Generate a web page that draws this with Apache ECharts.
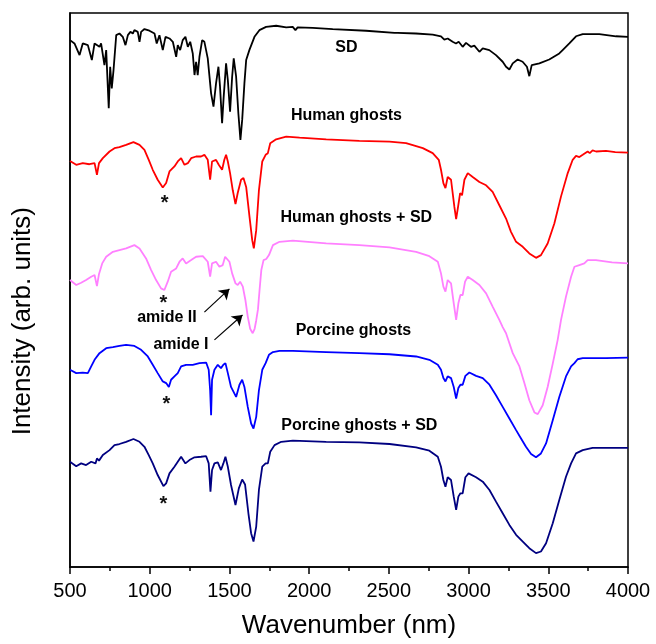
<!DOCTYPE html>
<html>
<head>
<meta charset="utf-8">
<script src="https://cdn.jsdelivr.net/npm/echarts@6/dist/echarts.min.js"></script>
<style>
html,body{margin:0;padding:0;background:#fff;}
#chart{width:656px;height:644px;}
</style>
</head>
<body>
<div id="chart"></div>
<script>
// x tick values (wavenumber)
var xTicks = [500, 1000, 1500, 2000, 2500, 3000, 3500, 4000];

// Spectra: [wavenumber, intensity (arb. units, offset stacked)]
var sdData = [[500,95.1],[528,94.5],[560,92.4],[580,94.5],[612,94.2],[637,91.5],[654,94.5],[685,93.9],[695,94.5],[716,90.6],[727,93.3],[743,82.8],[752,90.3],[762,86.4],[773,89.7],[790,96.0],[810,96.3],[831,95.7],[848,94.2],[863,96.0],[879,96.6],[894,96.3],[904,96.9],[925,96.6],[936,94.8],[946,96.6],[967,97.1],[998,96.8],[1030,96.3],[1044,94.5],[1061,96.0],[1082,93.3],[1099,95.7],[1124,95.4],[1145,94.8],[1166,92.1],[1176,94.2],[1191,93.3],[1207,95.1],[1224,95.7],[1239,93.9],[1254,94.8],[1270,92.7],[1281,88.8],[1291,91.2],[1301,88.8],[1312,92.1],[1329,95.1],[1343,94.8],[1364,91.8],[1385,85.5],[1400,83.1],[1416,87.3],[1431,90.3],[1441,86.7],[1454,80.1],[1464,84.9],[1479,90.9],[1490,87.9],[1504,82.2],[1517,88.5],[1527,91.8],[1542,88.5],[1556,81.9],[1569,77.1],[1580,80.7],[1594,87.3],[1605,91.5],[1625,93.3],[1657,95.7],[1688,96.9],[1730,97.5],[1793,97.7],[1856,97.4],[1897,97.5],[1914,96.9],[1928,97.4],[2022,97.3],[2148,97.1],[2357,96.8],[2535,96.4],[2545,96.1],[2555,96.4],[2670,96.3],[2775,96.1],[2827,95.8],[2848,95.2],[2869,95.4],[2900,94.8],[2921,94.5],[2938,94.8],[2963,93.9],[2984,94.6],[3015,93.9],[3036,94.1],[3068,93.0],[3089,93.6],[3130,93.3],[3172,92.4],[3214,91.2],[3235,90.3],[3256,89.8],[3277,90.9],[3308,91.6],[3339,91.2],[3366,90.3],[3381,88.6],[3396,90.6],[3444,90.9],[3506,91.6],[3569,92.7],[3590,93.3],[3632,94.5],[3674,95.8],[3716,96.2],[3820,96.2],[3925,95.8],[4000,95.7]];

var humanData = [[500,73.3],[539,72.6],[580,72.9],[622,72.7],[654,72.9],[669,70.8],[682,72.9],[706,73.8],[748,75.0],[779,75.6],[810,75.8],[852,76.2],[898,76.7],[936,76.2],[967,75.3],[994,73.5],[1019,71.7],[1050,69.9],[1082,68.5],[1103,69.3],[1124,71.4],[1155,72.3],[1176,73.2],[1197,73.8],[1218,72.6],[1239,72.9],[1260,73.8],[1291,74.1],[1322,74.1],[1343,74.4],[1364,73.5],[1379,69.9],[1391,73.2],[1416,73.5],[1433,72.6],[1454,71.7],[1468,73.5],[1479,74.4],[1490,73.2],[1504,71.1],[1521,68.0],[1538,65.5],[1552,67.5],[1573,69.9],[1588,70.2],[1605,68.6],[1626,63.2],[1643,59.0],[1653,57.5],[1668,60.8],[1685,68.0],[1706,73.2],[1727,74.4],[1741,74.7],[1756,76.5],[1793,77.2],[1856,77.7],[1940,77.5],[2107,77.2],[2315,76.9],[2504,76.8],[2608,76.5],[2713,75.6],[2775,74.7],[2813,73.5],[2827,71.7],[2842,69.3],[2855,68.4],[2869,70.4],[2890,69.9],[2911,65.0],[2922,62.8],[2934,65.0],[2947,67.5],[2959,67.1],[2974,69.9],[2995,71.1],[3026,70.4],[3068,69.5],[3110,68.9],[3151,67.7],[3193,65.3],[3235,62.9],[3266,60.5],[3298,58.7],[3340,57.8],[3381,56.6],[3423,55.8],[3454,56.3],[3496,58.4],[3538,62.0],[3580,66.9],[3622,71.1],[3653,73.5],[3674,74.2],[3695,74.0],[3716,74.4],[3747,75.0],[3760,74.7],[3778,75.2],[3800,75.0],[3862,75.1],[3920,74.9],[4000,74.8]];

var humanSdData = [[500,51.8],[539,50.9],[570,51.3],[601,51.8],[633,52.4],[654,52.7],[669,50.7],[682,52.9],[702,54.8],[727,56.0],[769,56.9],[810,57.2],[852,57.5],[904,58.1],[936,57.5],[977,55.7],[1009,53.6],[1040,51.8],[1071,50.3],[1092,50.0],[1113,51.5],[1134,53.3],[1166,53.9],[1187,55.1],[1207,55.7],[1228,54.8],[1260,55.4],[1291,56.0],[1333,56.1],[1364,55.1],[1379,52.4],[1391,54.8],[1416,55.1],[1437,54.2],[1458,54.5],[1473,56.0],[1485,56.3],[1500,55.1],[1517,53.0],[1538,51.2],[1552,50.9],[1567,51.5],[1584,50.6],[1600,48.2],[1615,45.2],[1630,43.0],[1646,42.2],[1658,43.0],[1668,44.5],[1679,46.5],[1689,50.0],[1700,53.6],[1714,55.4],[1731,55.6],[1748,56.3],[1773,58.1],[1814,58.7],[1898,58.9],[2107,58.4],[2315,58.1],[2504,57.7],[2671,56.9],[2754,56.1],[2807,55.1],[2827,53.0],[2842,50.6],[2855,49.7],[2869,51.8],[2890,51.2],[2907,47.6],[2922,44.6],[2936,47.6],[2949,49.1],[2963,49.1],[2978,51.5],[2995,52.4],[3026,51.8],[3068,50.9],[3110,49.4],[3151,47.0],[3193,44.6],[3214,43.3],[3235,42.2],[3277,38.6],[3319,36.2],[3350,33.2],[3381,30.1],[3413,27.9],[3434,27.6],[3465,29.2],[3496,32.5],[3528,36.7],[3559,41.0],[3580,44.6],[3611,48.8],[3643,52.4],[3664,54.2],[3695,54.5],[3726,54.8],[3747,55.4],[3799,55.4],[3900,55.0],[4000,54.8]];

var porcineData = [[500,35.6],[539,35.0],[580,35.1],[612,35.0],[633,36.2],[654,37.4],[685,38.6],[727,39.5],[769,39.7],[810,39.9],[852,40.1],[904,39.9],[946,39.2],[988,38.0],[1019,36.5],[1050,35.0],[1082,33.5],[1103,33.2],[1120,32.5],[1134,33.8],[1155,34.4],[1176,35.0],[1197,36.2],[1228,36.5],[1270,36.5],[1312,36.8],[1354,36.9],[1370,35.6],[1379,31.9],[1385,27.4],[1391,33.8],[1406,35.6],[1427,36.5],[1447,35.9],[1462,36.5],[1475,36.8],[1490,35.0],[1510,32.5],[1542,30.7],[1563,32.9],[1580,33.8],[1594,32.5],[1615,28.9],[1636,25.9],[1651,25.0],[1668,27.1],[1685,31.9],[1706,35.6],[1727,36.8],[1748,38.3],[1773,38.8],[1814,39.0],[1898,39.0],[2107,38.8],[2315,38.6],[2504,38.4],[2671,38.0],[2754,37.4],[2807,36.5],[2827,35.6],[2842,34.1],[2855,33.5],[2869,34.4],[2890,34.1],[2907,32.5],[2922,30.4],[2936,32.3],[2949,32.9],[2963,32.9],[2980,34.5],[3005,35.1],[3047,34.5],[3089,34.1],[3131,32.9],[3172,31.0],[3214,28.9],[3256,26.8],[3298,24.7],[3329,23.2],[3360,21.7],[3392,20.4],[3423,19.8],[3454,20.5],[3486,22.3],[3528,26.5],[3569,30.7],[3611,34.4],[3643,36.2],[3664,36.8],[3684,37.5],[3716,37.7],[3862,37.7],[4000,37.8]];

var porcineSdData = [[500,19.0],[539,18.2],[570,18.7],[601,18.4],[633,19.0],[660,18.7],[669,19.6],[682,19.2],[706,20.2],[748,21.1],[779,22.0],[810,22.2],[852,22.6],[898,23.1],[936,22.6],[967,21.7],[994,20.2],[1019,18.7],[1050,16.6],[1086,14.6],[1103,15.1],[1124,16.9],[1155,18.1],[1176,19.0],[1197,19.9],[1224,18.7],[1249,19.3],[1281,19.8],[1322,19.9],[1354,20.0],[1370,18.7],[1381,13.6],[1391,17.5],[1406,18.7],[1427,18.9],[1447,17.5],[1462,18.7],[1475,19.9],[1490,18.1],[1510,14.8],[1538,11.2],[1559,14.2],[1580,15.8],[1598,14.9],[1619,9.7],[1636,6.1],[1651,4.6],[1668,7.3],[1685,13.9],[1706,18.1],[1727,18.7],[1741,18.7],[1756,20.8],[1783,22.0],[1825,22.6],[1898,22.8],[2107,22.6],[2315,22.5],[2504,22.2],[2671,21.6],[2754,21.0],[2807,19.9],[2827,18.1],[2842,15.7],[2855,14.5],[2869,16.2],[2890,15.7],[2907,12.7],[2922,10.3],[2936,12.7],[2949,13.3],[2963,13.3],[2980,16.2],[3000,16.9],[3047,16.2],[3089,15.4],[3131,13.9],[3172,11.8],[3214,9.7],[3256,7.6],[3298,5.8],[3340,4.6],[3381,3.4],[3423,2.5],[3454,2.8],[3486,4.3],[3528,7.9],[3569,12.1],[3611,16.3],[3643,18.7],[3674,20.5],[3716,21.1],[3778,21.5],[3862,21.5],[4000,21.5]];

// Curve labels: [x, y, text]
var curveLabels = [[2234,93.7,'SD'],[2234,81.4,'Human ghosts'],[2296,63.0,'Human ghosts + SD'],[2278,42.6,'Porcine ghosts'],[2315,25.6,'Porcine ghosts + SD'],[1108,45.1,'amide II'],[1196,40.1,'amide I']];
// Asterisk markers: [x, y]
var starMarks = [[1093,65.6],[1086,47.6],[1105,29.3],[1086,11.3]];
// Arrows: [[x0,y0],[x1,y1]]
var arrows = [[[1343,46.0],[1500,50.2]],[[1406,41.0],[1582,45.5]]];

var FONT = 'Liberation Sans, Arial, Helvetica, sans-serif';
var chart = echarts.init(document.getElementById('chart'));

function lineSeries(name, data, color) {
  return {name: name, type: 'line', data: data, showSymbol: false, symbol: 'none',
    lineStyle: {color: color, width: 1.8}, itemStyle: {color: color}, silent: true, animation: false, z: 3};
}

var option = {
  animation: false,
  backgroundColor: '#fff',
  grid: {left: 70, right: 28, top: 13, bottom: 77, show: true, borderColor: '#000', borderWidth: 1.5, backgroundColor: 'transparent'},
  xAxis: {
    type: 'value', min: 500, max: 4000, interval: 500,
    name: 'Wavenumber (nm)', nameLocation: 'middle', nameGap: 46,
    nameTextStyle: {fontFamily: FONT, fontSize: 26, color: '#000'},
    axisLine: {show: true, lineStyle: {color: '#000', width: 1.5}},
    axisTick: {show: true, inside: false, length: 7, lineStyle: {color: '#000', width: 1.5}},
    minorTick: {show: true, splitNumber: 2, length: 4, lineStyle: {color: '#000', width: 1.5}},
    splitLine: {show: false},
    axisLabel: {margin: 14, fontFamily: FONT, fontSize: 20, color: '#000',
      formatter: function (v) { return xTicks.indexOf(v) >= 0 ? String(v) : ''; }}
  },
  yAxis: {
    type: 'value', min: 0, max: 100,
    axisLine: {show: true, lineStyle: {color: '#000', width: 1.5}},
    axisTick: {show: false}, axisLabel: {show: false}, splitLine: {show: false}
  },
  graphic: [{
    type: 'text', left: 10, top: 207, rotation: Math.PI / 2,
    style: {text: 'Intensity (arb. units)', fontFamily: FONT, fontSize: 26, fill: '#000'}
  }],
  series: [
    lineSeries('SD', sdData, '#000000'),
    lineSeries('Human ghosts', humanData, '#ff0000'),
    lineSeries('Human ghosts + SD', humanSdData, '#ff80ff'),
    lineSeries('Porcine ghosts', porcineData, '#0000ff'),
    lineSeries('Porcine ghosts + SD', porcineSdData, '#000080'),
    {
      name: 'labels', type: 'scatter', data: curveLabels, symbolSize: 1,
      itemStyle: {color: '#fff', opacity: 1}, silent: true, z: 5,
      label: {show: true, position: 'inside', formatter: function (p) { return p.data[2]; },
        fontFamily: FONT, fontWeight: 'bold', fontSize: 16, color: '#000', opacity: 1},
      markLine: {
        silent: true, symbol: ['none', 'arrow'], symbolSize: 10, animation: false,
        label: {show: false},
        lineStyle: {color: '#000', width: 1.2, type: 'solid', opacity: 1},
        itemStyle: {color: '#000'},
        data: arrows.map(function (a) { return [{coord: a[0]}, {coord: a[1]}]; })
      }
    },
    {
      name: 'stars', type: 'scatter', data: starMarks, symbolSize: 1,
      itemStyle: {color: '#fff', opacity: 1}, silent: true, z: 5,
      label: {show: true, position: 'inside', formatter: '*',
        fontFamily: FONT, fontWeight: 'bold', fontSize: 20, color: '#111', opacity: 1}
    }
  ]
};
chart.setOption(option);
</script>
</body>
</html>
